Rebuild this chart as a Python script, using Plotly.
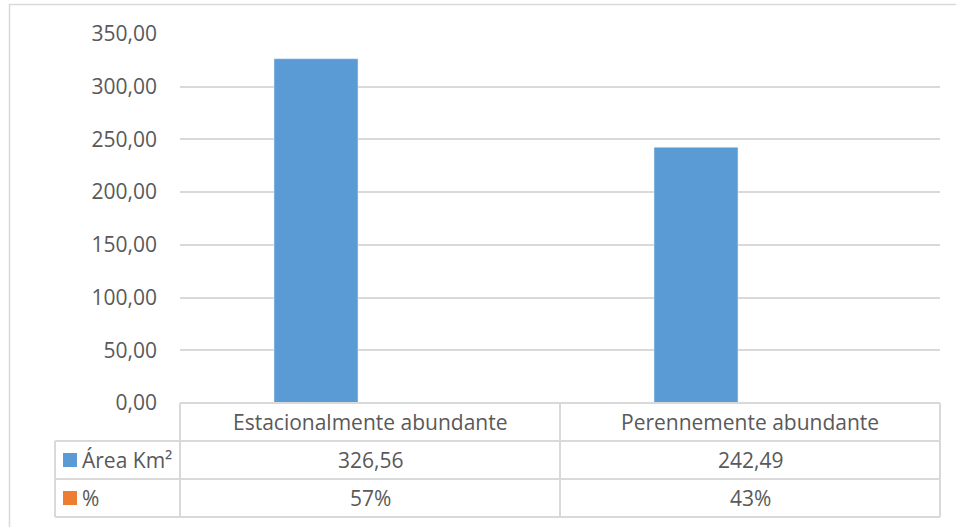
import plotly.graph_objects as go

categories = ["Estacionalmente abundante", "Perennemente abundante"]
area_km2 = [326.56, 242.49]
percent = [57, 43]
series_names = ["Área Km²", "%"]
y_ticks = [0, 50, 100, 150, 200, 250, 300, 350]

W, H = 956, 527
L, R, T, B = 180, 16, 34, 124
PW, PH = W - L - R, H - T - B

def px(x):
    return (x - L) / PW

def py(y):
    return (H - B - y) / PH

FONT = "Open Sans"
FS = 21
TXT = "#595959"
GRID = "#d9d9d9"
BLUE = "#5b9bd5"
ORANGE = "#ed7d31"

fig = go.Figure()
# blue series sits left of category centre (grouped with the tiny % series)
fig.add_trace(go.Bar(x=categories, y=area_km2, marker_color=BLUE, width=0.221, offset=-0.2526,
                     name=series_names[0], showlegend=False))

shapes = []
shapes.append(dict(type="rect", xref="paper", yref="paper", x0=px(9.5), x1=px(970), y0=py(540), y1=py(4.5),
                   line=dict(color=GRID, width=1.5), fillcolor="rgba(0,0,0,0)", layer="below"))
row_y = [403, 441, 479, 517]
col_x = [180, 560, 940]
shapes.append(dict(type="line", xref="paper", yref="paper", x0=px(180), x1=px(940), y0=py(403), y1=py(403),
                   line=dict(color=GRID, width=2)))
for yy in row_y[1:]:
    shapes.append(dict(type="line", xref="paper", yref="paper", x0=px(55), x1=px(940), y0=py(yy), y1=py(yy),
                       line=dict(color=GRID, width=2)))
for xx in col_x:
    shapes.append(dict(type="line", xref="paper", yref="paper", x0=px(xx), x1=px(xx), y0=py(403), y1=py(517),
                       line=dict(color=GRID, width=2)))
shapes.append(dict(type="line", xref="paper", yref="paper", x0=px(55), x1=px(55), y0=py(441), y1=py(517),
                   line=dict(color=GRID, width=2)))
for yc, col in [(460, BLUE), (498, ORANGE)]:
    shapes.append(dict(type="rect", xref="paper", yref="paper", x0=px(63), x1=px(77), y0=py(yc + 7), y1=py(yc - 7),
                       line=dict(width=0), fillcolor=col))

annotations = []
centers = [370, 750]
for i, c in enumerate(categories):
    annotations.append(dict(xref="paper", yref="paper", x=px(centers[i]), y=py(422), text=c, showarrow=False,
                            font=dict(family=FONT, size=FS, color=TXT), xanchor="center", yanchor="middle"))
    annotations.append(dict(xref="paper", yref="paper", x=px(centers[i]), y=py(460),
                            text=f"{area_km2[i]:.2f}".replace(".", ","), showarrow=False,
                            font=dict(family=FONT, size=FS, color=TXT), xanchor="center", yanchor="middle"))
    annotations.append(dict(xref="paper", yref="paper", x=px(centers[i]), y=py(498), text=f"{percent[i]}%",
                            showarrow=False, font=dict(family=FONT, size=FS, color=TXT),
                            xanchor="center", yanchor="middle"))
for yc, name in [(460, series_names[0]), (498, series_names[1])]:
    annotations.append(dict(xref="paper", yref="paper", x=px(80), y=py(yc), text=name, showarrow=False,
                            font=dict(family=FONT, size=FS, color=TXT), xanchor="left", yanchor="middle"))

fig.update_layout(
    width=W, height=H,
    margin=dict(l=L, r=R, t=T, b=B),
    paper_bgcolor="white", plot_bgcolor="white",
    separators=",.",
    shapes=shapes, annotations=annotations,
    xaxis=dict(range=[-0.5, 1.5], showticklabels=False, showgrid=False, zeroline=False, showline=False,
               ticks=""),
    yaxis=dict(range=[0, 350], tickvals=y_ticks, tickformat=".2f", showgrid=True, gridcolor=GRID,
               gridwidth=1.5, zeroline=False, showline=False, ticks="", ticklabelstandoff=22,
               tickfont=dict(family=FONT, size=FS, color=TXT)),
)
fig.write_html("out.html", config={"displayModeBar": False},
               post_script="document.body.style.margin='0';document.body.style.overflow='hidden';")
